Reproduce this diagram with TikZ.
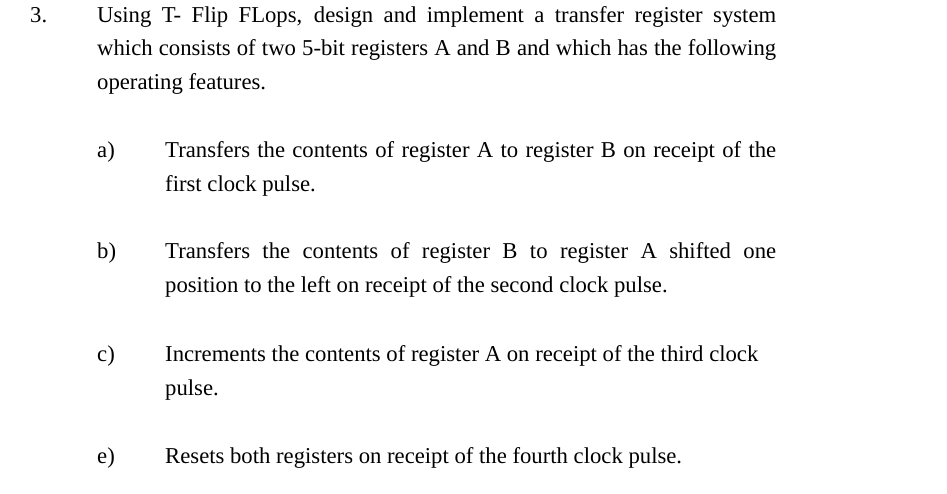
\documentclass[tikz,border=0pt]{standalone}
\usepackage{fontspec}
\setmainfont{Liberation Serif}
\begin{document}
\begin{tikzpicture}[x=1pt,y=-1pt,
  txt/.style={anchor=base west,inner sep=0pt,font=\fontsize{22.7}{27}\selectfont}]
\useasboundingbox[fill=white] (0,0) rectangle (947,493);
\node[txt] (n3) at (30,22) {3.};
\node[txt] (l1) at (97,22) {\makebox[679pt][s]{Using T- Flip FLops, design and implement a transfer register system}};
\node[txt] (l2) at (97,55) {\makebox[679pt][s]{which consists of two 5-bit registers A and B and which has the following}};
\node[txt] (l3) at (97,89) {operating features.};
\node[txt] (la) at (97,157) {a)};
\node[txt] (a1) at (165,157) {\makebox[611pt][s]{Transfers the contents of register A to register B on receipt of the}};
\node[txt] (a2) at (165,191) {first clock pulse.};
\node[txt] (lb) at (97,258) {b)};
\node[txt] (b1) at (165,258) {\makebox[611pt][s]{Transfers the contents of register B to register A shifted one}};
\node[txt] (b2) at (165,292) {position to the left on receipt of the second clock pulse.};
\node[txt] (lc) at (97,361) {c)};
\node[txt] (c1) at (165,361) {Increments the contents of register A on receipt of the third clock};
\node[txt] (c2) at (165,395) {pulse.};
\node[txt] (le) at (97,463) {e)};
\node[txt] (e1) at (165,463) {Resets both registers on receipt of the fourth clock pulse.};
\end{tikzpicture}
\end{document}
